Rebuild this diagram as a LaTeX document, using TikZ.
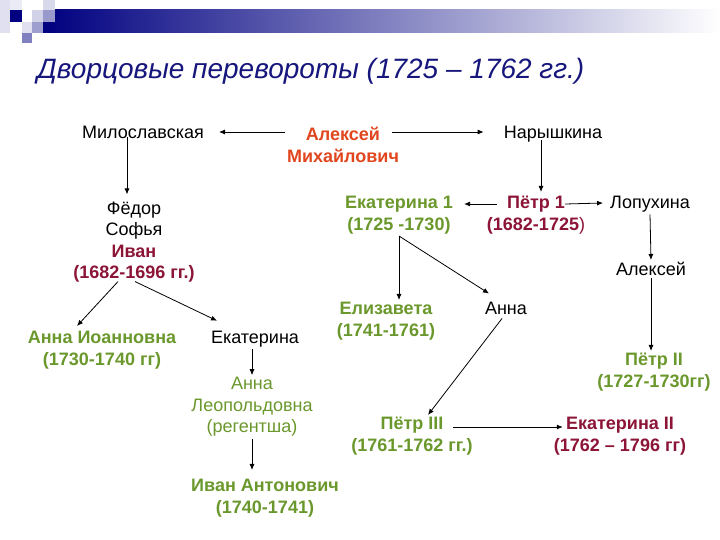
\documentclass[tikz,border=0pt]{standalone}
\usepackage{fontspec}
\setmainfont{Liberation Sans}
\usetikzlibrary{arrows.meta, calc}

\definecolor{hdrnavy}{RGB}{0,0,128}
\definecolor{titlenavy}{RGB}{22,22,125}
\definecolor{alexred}{RGB}{225,70,30}
\definecolor{tsarred}{RGB}{140,20,55}
\definecolor{rulergreen}{RGB}{107,152,44}

\begin{document}
\begin{tikzpicture}[x=1pt, y=-1pt,
    % --- Global Styles ---
    base/.style={align=center, inner sep=2pt, font=\fontsize{18}{21.5}\selectfont},
    person/.style={base, text=black},
    ruler/.style={base, font=\fontsize{18}{21.5}\selectfont\bfseries, text=rulergreen},
    tsar/.style={ruler, text=tsarred},
    regent/.style={base, text=rulergreen},
    arrow/.style={-{Latex[length=6pt,width=5pt]}, line width=0.8pt, color=black}
]
    \useasboundingbox[fill=white] (0,0) rectangle (720,540);

    % --- Header bar & squares ---
    \shade[left color=hdrnavy, right color=white] (43,10) rectangle (720,33);
    \fill[hdrnavy!12] (0,0) rectangle (10,33);
    \fill[hdrnavy!8] (10,0) rectangle (22,10);
    \fill[hdrnavy] (10,10) rectangle (22,22);
    \fill[hdrnavy!18] (32,10) rectangle (43,22);
    \fill[hdrnavy!15] (43,0) rectangle (55,10);
    \fill[hdrnavy!40] (43,10) rectangle (55,22);
    \fill[hdrnavy!12] (22,22) rectangle (32,33);
    \fill[hdrnavy!38] (32,22) rectangle (43,33);
    \fill[hdrnavy!50] (22,33) rectangle (32,43);

    % --- Title ---
    \node[anchor=base west, inner sep=0pt, text=titlenavy,
          font=\fontsize{28}{33}\selectfont\itshape] (title) at (37,79)
          {Дворцовые перевороты (1725 – 1762 гг.)};

    % --- Nodes ---
    \node[person] (milo) at (143,132) {Милославская};
    \node[base, font=\fontsize{18}{21.5}\selectfont\bfseries, text=alexred] (alexei) at (343,145) {Алексей\\Михайлович};
    \node[person] (naryshk) at (553,134) {Нарышкина};

    \node[person] (fedor) at (134,242) {Фёдор\\Софья\\\textcolor{tsarred}{\textbf{Иван}}\\\textcolor{tsarred}{\textbf{(1682-1696 гг.)}}};
    \node[ruler] (annaI) at (102,350) {Анна Иоанновна\\(1730-1740 гг)};
    \node[person] (ekat) at (255,339) {Екатерина};
    \node[regent] (annaL) at (252,407) {Анна\\Леопольдовна\\(регентша)};
    \node[ruler] (ivanA) at (265,498) {Иван Антонович\\(1740-1741)};

    \node[tsar] (petr1) at (536,215) {Пётр 1\\(1682-1725{\mdseries)}};
    \node[ruler] (ekat1) at (399,215) {Екатерина 1\\(1725 -1730)};
    \node[person] (lopukh) at (650,204) {Лопухина};
    \node[person] (alexei2) at (651,269) {Алексей};
    \node[ruler] (petr2) at (654,372) {Пётр II\\(1727-1730гг)};
    \node[ruler] (eliz) at (386,321) {Елизавета\\(1741-1761)};
    \node[person] (annaE) at (506,308) {Анна};
    \node[ruler] (petr3) at (412,436) {Пётр III\\(1761-1762 гг.)};
    \node[tsar] (ekat2) at (620,436) {Екатерина II\\(1762 – 1796 гг)};

    % --- Connectors ---
    \draw[arrow] (alexei.west |- milo) -- ($(milo.east)+(13,0)$);
    \draw[arrow] ($(alexei.east |- milo)+(-9,0)$) -- ($(naryshk.west |- milo)+(-18,0)$);
    \draw[arrow] ($(milo.south)+(-16,-3)$) -- ($(milo.south |- fedor.north)+(-16,-5)$);
    \draw[arrow] ($(fedor.south)+(-16,-3)$) -- ($(annaI.north)+(-25,-3)$);
    \draw[arrow] ($(fedor.south)+(1,-3)$) -- ($(ekat.north)+(-38,-8)$);
    \draw[arrow] (ekat.south -| annaL) -- (annaL.north);
    \draw[arrow] (annaL.south) -- ($(annaL.south |- ivanA.north)+(0,-7)$);

    \draw[arrow] ($(naryshk.south)+(-12,-4)$) -- ($(naryshk.south |- petr1.north)+(-12,-2)$);
    \draw[arrow] ($(petr1.west)+(12,-11)$) -- ($(ekat1.east)+(9,-11)$);
    \draw[arrow] ($(petr1.east)+(-22,-11)$) -- ($(lopukh.west)+(-5,-1)$);
    \draw[arrow] (lopukh.south) -- (alexei2.north);
    \draw[arrow] (alexei2.south) -- (alexei2.south |- petr2.north);
    \draw[arrow] (ekat1.south) -- (ekat1.south |- eliz.north);
    \draw[arrow] (ekat1.south) -- ($(annaE.north)+(-17,-6)$);
    \draw[arrow] ($(annaE.south)+(-4,2)$) -- ($(petr3.north)+(16,0)$);
    \draw[arrow] ($(petr3.east)+(-22,-9)$) -- ($(ekat2.west)+(11,-9)$);

\end{tikzpicture}
\end{document}
